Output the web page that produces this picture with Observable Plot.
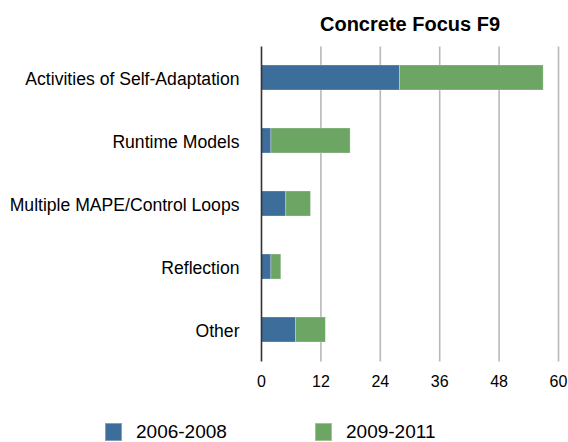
<!DOCTYPE html>
<html>
<head>
<meta charset="utf-8">
<script src="https://cdn.jsdelivr.net/npm/d3@7"></script>
<script src="https://cdn.jsdelivr.net/npm/@observablehq/plot@0.6"></script>
<style>
  html, body { margin: 0; padding: 0; background: #fff; }
  body { width: 568px; height: 442px; overflow: hidden; font-family: "Liberation Sans", Helvetica, Arial, sans-serif; }
  #legend { position: relative; height: 42px; }
  .item { position: absolute; top: 23px; display: flex; align-items: center; font-size: 19px; color: #000; line-height: 18px; }
  .sw { width: 17px; height: 18px; margin-right: 14px; box-sizing: border-box; }
</style>
</head>
<body>
<div id="chart"></div>
<div id="legend"></div>
<script>
const title = "Concrete Focus F9";
const categories = ["Activities of Self-Adaptation", "Runtime Models", "Multiple MAPE/Control Loops", "Reflection", "Other"];
const series = ["2006-2008", "2009-2011"];
const values2006 = [28, 2, 5, 2, 7];
const values2009 = [29, 16, 5, 2, 6];
const xTicks = [0, 12, 24, 36, 48, 60];
const colors = ["#3c6d9b", "#6ca564"];

const seriesValues = [values2006, values2009];
const data = [];
categories.forEach((c, i) => {
  series.forEach((s, j) => data.push({category: c, series: s, value: seriesValues[j][i]}));
});

const plot = Plot.plot({
  width: 568,
  height: 400,
  marginLeft: 261,
  marginRight: 10,
  marginTop: 46.5,
  marginBottom: 38.5,
  style: {fontFamily: "'Liberation Sans', Helvetica, Arial, sans-serif", color: "#000", background: "#fff"},
  x: {domain: [0, 60]},
  y: {domain: categories, paddingInner: 0.6, paddingOuter: 0.3},
  color: {domain: series, range: colors},
  marks: [
    Plot.gridX(xTicks.filter(d => d > 0), {stroke: "#b8b8b8", strokeOpacity: 1, strokeWidth: 1.6}),
    Plot.barX(data, Plot.stackX({y: "category", x: "value", fill: "series", order: series, stroke: "#ffffff", strokeOpacity: 0.35, strokeWidth: 0.8})),
    Plot.ruleX([0], {stroke: "#333", strokeWidth: 1.6}),
    Plot.axisX(xTicks, {tickSize: 0, tickPadding: 13.5, fontSize: 16, label: null}),
    Plot.axisY({tickSize: 0, tickPadding: 22, fontSize: 17.6, dy: 1, label: null}),
    Plot.text([title], {frameAnchor: "top", dy: -30.5, fontSize: 20, fontWeight: "bold", fill: "#000"})
  ]
});
document.getElementById("chart").appendChild(plot);

const legend = document.getElementById("legend");
const legendX = [105, 315];
series.forEach((s, j) => {
  const item = document.createElement("div");
  item.className = "item";
  item.style.left = legendX[j] + "px";
  const sw = document.createElement("span");
  sw.className = "sw";
  sw.style.background = colors[j];
  sw.style.border = "1px solid rgba(255,255,255,0.35)";
  item.appendChild(sw);
  const t = document.createElement("span");
  t.textContent = s;
  item.appendChild(t);
  legend.appendChild(item);
});
</script>
</body>
</html>
